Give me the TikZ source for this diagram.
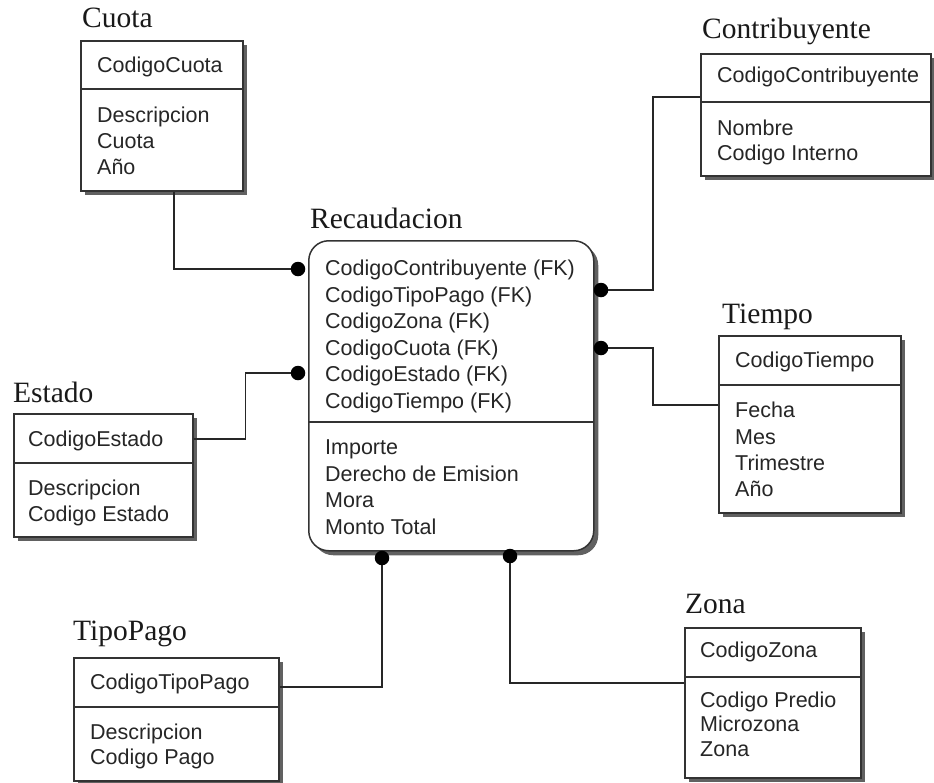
\documentclass[tikz,border=0pt]{standalone}
\usepackage{fontspec}
\setmainfont{Liberation Serif}
\newfontfamily\attrfont{Liberation Sans}
\usetikzlibrary{calc,shadows}

\begin{document}
\begin{tikzpicture}[x=1pt,y=-1pt,
  entity/.style={draw=black!80, line width=1.5pt, fill=white, inner sep=0pt,
    anchor=north west,
    drop shadow={shadow xshift=4.5pt, shadow yshift=-4.5pt, opacity=1, fill=black!62}},
  divider/.style={draw=black!80, line width=1.5pt},
  attr/.style={anchor=base west, inner sep=0pt,
    font=\attrfont\fontsize{21.5}{24}\selectfont, text=black!85},
  title/.style={anchor=base west, inner sep=0pt,
    font=\fontsize{29.5}{33}\selectfont, text=black!90},
  link/.style={draw=black!85, line width=1.4pt},
  jdot/.style={circle, fill=black, inner sep=0pt, minimum size=14.5pt}]
\useasboundingbox (0,0) rectangle (934,782);

% ---------- Cuota ----------
\node[title] (cuota-t) at (82,27) {Cuota};
\node[entity, minimum width=162, minimum height=150] (cuota) at (80,40) {};
\draw[divider] (80,89) -- (242,89);
\node[attr] (cuota-k) at (97,72.7) {CodigoCuota};
\node[attr] (cuota-a1) at (97,122.2) {Descripcion};
\node[attr] (cuota-a2) at (97,148.7) {Cuota};
\node[attr] (cuota-a3) at (97,174.7) {Año};

% ---------- Contribuyente ----------
\node[title] (contrib-t) at (702,38) {Contribuyente};
\node[entity, minimum width=230, minimum height=122] (contrib) at (700,53) {};
\draw[divider] (700,102) -- (930,102);
\node[attr] (contrib-k) at (717,82.7) {CodigoContribuyente};
\node[attr] (contrib-a1) at (717,135.2) {Nombre};
\node[attr] (contrib-a2) at (717,160.2) {Codigo Interno};

% ---------- Recaudacion ----------
\node[title] (rec-t) at (310,228) {Recaudacion};
\node[entity, rounded corners=20pt, minimum width=285, minimum height=310] (rec) at (308,240) {};
\draw[divider] (308,422) -- (593,422);
\node[attr] (rec-k1) at (325,275.7) {CodigoContribuyente (FK)};
\node[attr] (rec-k2) at (325,302.2) {CodigoTipoPago (FK)};
\node[attr] (rec-k3) at (325,328.7) {CodigoZona (FK)};
\node[attr] (rec-k4) at (325,355.2) {CodigoCuota (FK)};
\node[attr] (rec-k5) at (325,381.7) {CodigoEstado (FK)};
\node[attr] (rec-k6) at (325,408.2) {CodigoTiempo (FK)};
\node[attr] (rec-a1) at (325,454.7) {Importe};
\node[attr] (rec-a2) at (325,481.7) {Derecho de Emision};
\node[attr] (rec-a3) at (325,507.7) {Mora};
\node[attr] (rec-a4) at (325,534.2) {Monto Total};

% ---------- Tiempo ----------
\node[title] (tiempo-t) at (722,323) {Tiempo};
\node[entity, minimum width=182, minimum height=177] (tiempo) at (718,335) {};
\draw[divider] (718,385) -- (900,385);
\node[attr] (tiempo-k) at (735,367.7) {CodigoTiempo};
\node[attr] (tiempo-a1) at (735,417.7) {Fecha};
\node[attr] (tiempo-a2) at (735,444.2) {Mes};
\node[attr] (tiempo-a3) at (735,470.2) {Trimestre};
\node[attr] (tiempo-a4) at (735,496.7) {Año};

% ---------- Estado ----------
\node[title] (estado-t) at (13,402) {Estado};
\node[entity, minimum width=179, minimum height=123] (estado) at (13,413) {};
\draw[divider] (13,463) -- (192,463);
\node[attr] (estado-k) at (28,446.7) {CodigoEstado};
\node[attr] (estado-a1) at (28,495.7) {Descripcion};
\node[attr] (estado-a2) at (28,521.7) {Codigo Estado};

% ---------- TipoPago ----------
\node[title] (tipo-t) at (73,640) {TipoPago};
\node[entity, minimum width=205, minimum height=123] (tipopago) at (73,657) {};
\draw[divider] (73,707) -- (278,707);
\node[attr] (tipo-k) at (90,689.7) {CodigoTipoPago};
\node[attr] (tipo-a1) at (90,739.7) {Descripcion};
\node[attr] (tipo-a2) at (90,764.7) {Codigo Pago};

% ---------- Zona ----------
\node[title] (zona-t) at (685,613) {Zona};
\node[entity, minimum width=176, minimum height=150] (zona) at (684,627) {};
\draw[divider] (684,677) -- (860,677);
\node[attr] (zona-k) at (700,657.7) {CodigoZona};
\node[attr] (zona-a1) at (700,707.7) {Codigo Predio};
\node[attr] (zona-a2) at (700,731.7) {Microzona};
\node[attr] (zona-a3) at (700,756.7) {Zona};

% ---------- attachment points ----------
\coordinate (cuota-out)   at ($(cuota.south west)+(94,0)$);
\coordinate (contrib-in)  at ($(contrib.north west)+(0,44)$);
\coordinate (tiempo-in)   at ($(tiempo.north west)+(0,70)$);
\coordinate (estado-out)  at ($(estado.north east)+(0,26)$);
\coordinate (tipo-out)    at ($(tipopago.north east)+(0,30)$);
\coordinate (zona-in)     at ($(zona.north west)+(0,56)$);

% relationship ends on Recaudacion
\coordinate (jA) at (298,269);
\coordinate (jB) at (601,290);
\coordinate (jC) at (601,348);
\coordinate (jD) at (298,373);
\coordinate (jE) at (382,558);
\coordinate (jF) at (510,556);

% ---------- connectors ----------
\draw[link] (cuota-out) |- (jA);
\draw[link] (jB) -- ++(52,0) |- (contrib-in);
\draw[link] (jC) -- ++(52,0) |- (tiempo-in);
\draw[link] (estado-out) -- ++(52,0) |- (jD);
\draw[link] (tipo-out) -| (jE);
\draw[link] (jF) |- (zona-in);

\foreach \j in {jA,jB,jC,jD,jE,jF}
  \node[jdot] (\j-dot) at (\j) {};
\end{tikzpicture}
\end{document}
